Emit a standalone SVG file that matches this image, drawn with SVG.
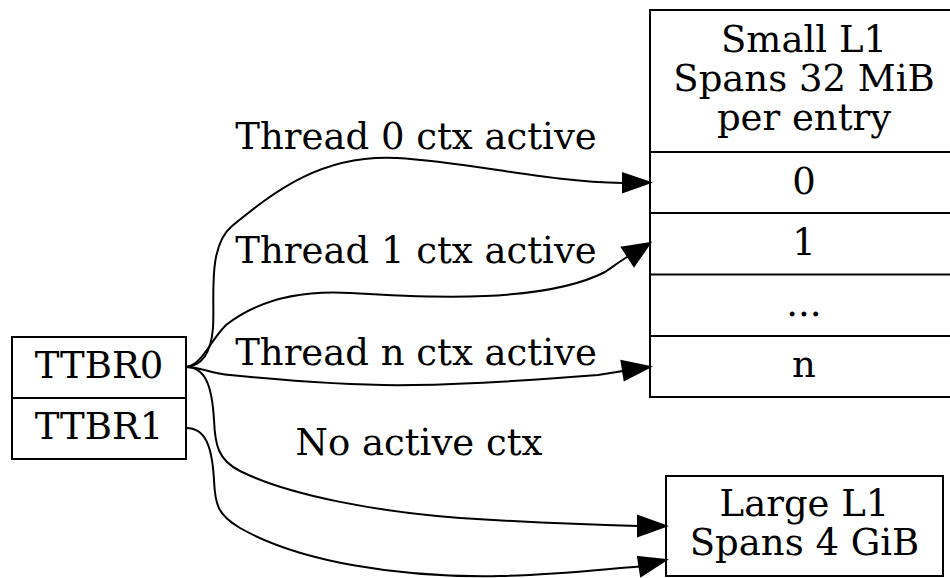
<svg xmlns="http://www.w3.org/2000/svg" width="950" height="578" viewBox="0 0 950 578">
  <style>
    text { font-family: "DejaVu Serif", "Liberation Serif", serif; font-size: 37px; fill: #000; text-anchor: middle; }
    .box { fill: #fff; stroke: #000; stroke-width: 2; }
    .sep { stroke: #000; stroke-width: 2; fill: none; }
    .edge { fill: none; stroke: #000; stroke-width: 2; }
    .head { fill: #000; stroke: #000; stroke-width: 2; }
  </style>
  <rect x="0" y="0" width="950" height="578" fill="#fff"/>

  <!-- record: translation table base registers -->
  <g id="ttbr">
    <rect class="box" x="12" y="337" width="174" height="122"/>
    <line class="sep" x1="12" y1="398" x2="186" y2="398"/>
    <text x="99" y="378">TTBR0</text>
    <text x="99" y="439">TTBR1</text>
  </g>

  <!-- record: small level-1 table -->
  <g id="small_l1">
    <rect class="box" x="650" y="10" width="308" height="387"/>
    <line class="sep" x1="650" y1="152" x2="958" y2="152"/>
    <line class="sep" x1="650" y1="213" x2="958" y2="213"/>
    <line class="sep" x1="650" y1="274.5" x2="958" y2="274.5"/>
    <line class="sep" x1="650" y1="336" x2="958" y2="336"/>
    <text x="804" y="52">Small L1</text>
    <text x="804" y="91">Spans 32 MiB</text>
    <text x="804" y="130">per entry</text>
    <text x="804" y="194">0</text>
    <text x="804" y="255">1</text>
    <text x="804" y="316">...</text>
    <text x="804" y="377">n</text>
  </g>

  <!-- node: large level-1 table -->
  <g id="large_l1">
    <rect class="box" x="666" y="476" width="277" height="100"/>
    <text x="804.5" y="516">Large L1</text>
    <text x="804.5" y="555">Spans 4 GiB</text>
  </g>

  <!-- connectors -->
  <g id="edges">
    <path class="edge" d="M186,367 C202,366 211,352 213,328 C215,298 207,247 232,226 C275,191 322,154 397,158 C470,162 545,182 623,183"/>
    <polygon class="head" points="623,173.5 650,182.5 623,192"/>
    <text x="416" y="149">Thread 0 ctx active</text>

    <path class="edge" d="M186,367 C203,364 209,342 226,325 C258,300 300,290 350,293 C430,298 545,303 605,272 C614,266 620,261 629,256"/>
    <polygon class="head" points="622,247.5 650,243 634,266"/>
    <text x="416" y="263">Thread 1 ctx active</text>

    <path class="edge" d="M186,367 C200,367 210,373 230,375 C290,381 360,386 413,385 C480,384 560,378 598,375 L623,371"/>
    <polygon class="head" points="621.5,361 650,367 624.5,380"/>
    <text x="416" y="365">Thread n ctx active</text>

    <path class="edge" d="M186,367 C205,367 212,385 214,420 C215,445 218,460 240,471 C290,496 380,512 460,518 C540,523 600,525 638,526"/>
    <polygon class="head" points="638,516 666,526 638,536"/>
    <text x="419" y="455">No active ctx</text>

    <path class="edge" d="M186,428 C205,428 212,445 214,480 C215,505 218,515 240,528 C300,562 400,578 500,576 C560,575 605,569 640,566.5"/>
    <polygon class="head" points="638,557 666,560 641,576"/>
  </g>
</svg>
